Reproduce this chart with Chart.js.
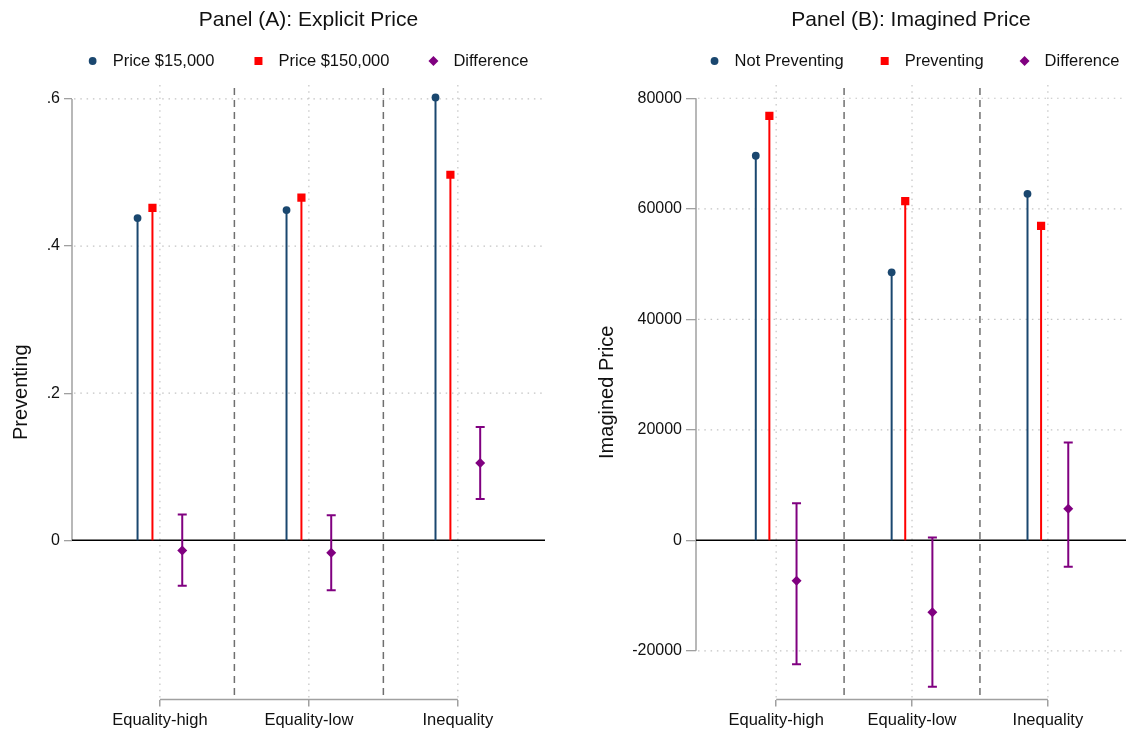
<!DOCTYPE html>
<html>
<head>
<meta charset="utf-8">
<script src="https://cdn.jsdelivr.net/npm/chart.js@4"></script>
<style>
  html, body { margin: 0; padding: 0; background: #fff; }
  #wrap { position: relative; width: 1126px; height: 731px; }
  .panel { position: absolute; top: 0; height: 731px; }
</style>
</head>
<body>
<div id="wrap">
  <div class="panel" style="left:0;width:563px"><canvas id="panelA"></canvas></div>
  <div class="panel" style="left:563px;width:563px"><canvas id="panelB"></canvas></div>
</div>
<script>
const categories = ["Equality-high", "Equality-low", "Inequality"];

// Panel A: share preventing, by explicit price
const price15k = [0.438, 0.449, 0.602];
const price150k = [0.452, 0.466, 0.497];
const diffA = [-0.014, -0.017, 0.105];
const diffALow = [-0.062, -0.068, 0.056];
const diffAHigh = [0.035, 0.034, 0.154];
const ticksA = [0, 0.2, 0.4, 0.6];

// Panel B: imagined price
const notPreventing = [69600, 48500, 62700];
const preventing = [76800, 61400, 56900];
const diffB = [-7300, -13000, 5700];
const diffBLow = [-22400, -26500, -4800];
const diffBHigh = [6700, 500, 17700];
const ticksB = [-20000, 0, 20000, 40000, 60000, 80000];

const separators = [1.5, 2.5];
const NAVY = "#1a476f", RED = "#ff0000", PURPLE = "#800080";
const FONT = '"Liberation Sans", Arial, sans-serif';

Chart.defaults.font.family = FONT;
Chart.defaults.color = "#111";

function stems(values, off, color) {
    const pts = [];
    values.forEach((v, i) => {
        pts.push({ x: i + 1 + off, y: 0 }, { x: i + 1 + off, y: v }, { x: i + 1 + off, y: null });
    });
    return { type: "line", data: pts, borderColor: color, borderWidth: 2, pointRadius: 0, spanGaps: false, order: 2 };
}

function ranges(lo, hi, off) {
    const pts = [];
    lo.forEach((v, i) => {
        pts.push({ x: i + 1 + off, y: v }, { x: i + 1 + off, y: hi[i] }, { x: i + 1 + off, y: null });
    });
    return { type: "line", data: pts, borderColor: PURPLE, borderWidth: 2, pointRadius: 0, spanGaps: false, order: 1 };
}

function caps(lo, hi, off) {
    const pts = [];
    lo.forEach((v, i) => pts.push({ x: i + 1 + off, y: v }, { x: i + 1 + off, y: hi[i] }));
    return { type: "scatter", data: pts, pointStyle: "line", pointRadius: 4.5, borderColor: PURPLE, borderWidth: 2, order: 1 };
}

function markers(values, off, style, radius, color) {
    return {
        type: "scatter",
        data: values.map((v, i) => ({ x: i + 1 + off, y: v })),
        pointStyle: style, pointRadius: radius, backgroundColor: color, borderWidth: 0, order: 0
    };
}

function seg(ctx, x1, y1, x2, y2) {
    ctx.beginPath();
    ctx.moveTo(x1, y1);
    ctx.lineTo(x2, y2);
    ctx.stroke();
}

function drawKey(ctx, it, x, y) {
    ctx.fillStyle = it.color;
    ctx.beginPath();
    if (it.style === "circle") {
        ctx.arc(x, y, 3.9, 0, Math.PI * 2);
    } else if (it.style === "rect") {
        ctx.rect(x - 4, y - 4, 8, 8);
    } else {
        ctx.moveTo(x, y - 5); ctx.lineTo(x + 5, y); ctx.lineTo(x, y + 5); ctx.lineTo(x - 5, y);
        ctx.closePath();
    }
    ctx.fill();
}

const framePlugin = {
    id: "frame",
    beforeDatasetsDraw(chart, args, opts) {
        const { ctx, chartArea: a, scales: { x, y } } = chart;
        const t = opts.yTicks;
        ctx.save();
        // dotted grid
        ctx.strokeStyle = "#c4c4c4";
        ctx.lineWidth = 1.2;
        ctx.setLineDash([1.5, 4.8]);
        t.forEach(v => {
            if (v === 0) return;
            const py = y.getPixelForValue(v);
            seg(ctx, a.left + 2, py, a.right, py);
        });
        categories.forEach((c, i) => {
            const px = x.getPixelForValue(i + 1);
            seg(ctx, px, a.top, px, a.bottom);
        });
        // group separators
        ctx.strokeStyle = "#6f6f6f";
        ctx.lineWidth = 1.5;
        ctx.setLineDash([7, 5]);
        separators.forEach(v => {
            const px = x.getPixelForValue(v);
            seg(ctx, px, a.top + 3, px, a.bottom);
        });
        ctx.setLineDash([]);
        // axis lines
        ctx.strokeStyle = "#a0a0a0";
        ctx.lineWidth = 1.5;
        seg(ctx, a.left, y.getPixelForValue(t[0]), a.left, y.getPixelForValue(t[t.length - 1]));
        seg(ctx, x.getPixelForValue(1), a.bottom, x.getPixelForValue(categories.length), a.bottom);
        // zero line
        ctx.strokeStyle = "#000";
        const y0 = y.getPixelForValue(0);
        seg(ctx, a.left, y0, a.right, y0);
        ctx.restore();
    },
    afterDraw(chart, args, opts) {
        const { ctx, chartArea: a, scales: { x } } = chart;
        ctx.save();
        // category labels under the x axis
        ctx.font = "16.5px " + FONT;
        ctx.fillStyle = "#111";
        ctx.textAlign = "center";
        ctx.textBaseline = "alphabetic";
        categories.forEach((c, i) => ctx.fillText(c, x.getPixelForValue(i + 1), a.bottom + 25));
        // legend
        const items = opts.legend;
        ctx.textAlign = "left";
        ctx.textBaseline = "middle";
        const widths = items.map(it => ctx.measureText(it.text).width);
        const total = widths.reduce((s, w) => s + 24 + w, 0) + opts.gap * (items.length - 1);
        let px = (a.left + a.right) / 2 - total / 2 + opts.dx;
        items.forEach((it, i) => {
            drawKey(ctx, it, px + 4, 61);
            ctx.fillStyle = "#111";
            ctx.fillText(it.text, px + 24, 61);
            px += 24 + widths[i] + opts.gap;
        });
        ctx.restore();
    }
};

function makePanel(id, cfg) {
    new Chart(document.getElementById(id), {
        type: "scatter",
        data: {
            datasets: [
                markers(cfg.s1, -0.15, "circle", 3.9, NAVY),
                markers(cfg.s2, -0.05, "rect", 5.8, RED),
                markers(cfg.diff, 0.15, "rectRot", 5, PURPLE),
                caps(cfg.lo, cfg.hi, 0.15),
                ranges(cfg.lo, cfg.hi, 0.15),
                stems(cfg.s1, -0.15, NAVY),
                stems(cfg.s2, -0.05, RED)
            ]
        },
        options: {
            responsive: true,
            maintainAspectRatio: false,
            animation: false,
            events: [],
            layout: { autoPadding: false, padding: { left: 0, right: cfg.padRight, top: 0, bottom: 0 } },
            plugins: {
                legend: { display: false },
                tooltip: { enabled: false },
                title: {
                    display: true,
                    text: cfg.title,
                    fullSize: false,
                    color: "#111",
                    font: { size: 21, weight: "normal" },
                    padding: { top: 8, bottom: 51.8 }
                },
                frame: { yTicks: cfg.ticks, legend: cfg.legend, gap: cfg.gap, dx: cfg.dx }
            },
            scales: {
                x: {
                    type: "linear",
                    min: cfg.xMin,
                    max: cfg.xMax,
                    afterBuildTicks: s => { s.ticks = categories.map((c, i) => ({ value: i + 1 })); },
                    afterFit: s => { s.height = 31.5; },
                    ticks: { display: false },
                    grid: { drawOnChartArea: false, tickLength: 7, color: "#a0a0a0", lineWidth: 1.5 },
                    border: { display: false }
                },
                y: {
                    min: cfg.yMin,
                    max: cfg.yMax,
                    afterBuildTicks: s => { s.ticks = cfg.ticks.map(v => ({ value: v })); },
                    afterFit: s => { s.width = cfg.axisWidth; },
                    ticks: {
                        callback: cfg.fmt,
                        padding: 4,
                        font: { size: 16 },
                        color: "#111"
                    },
                    grid: { drawOnChartArea: false, tickLength: cfg.tickLen, color: "#a0a0a0", lineWidth: 1.3 },
                    border: { display: false },
                    title: {
                        display: true,
                        text: cfg.yTitle,
                        color: "#111",
                        font: { size: 20 },
                        padding: { top: cfg.titlePad, bottom: 0 }
                    }
                }
            }
        },
        plugins: [framePlugin]
    });
}

makePanel("panelA", {
    title: "Panel (A): Explicit Price",
    yTitle: "Preventing",
    s1: price15k, s2: price150k, diff: diffA, lo: diffALow, hi: diffAHigh,
    ticks: ticksA,
    fmt: v => (v === 0 ? "0" : String(v).replace(/^0/, "")),
    yMin: -0.2165, yMax: 0.619,
    xMin: 0.41, xMax: 3.585,
    axisWidth: 72, padRight: 18, tickLen: 8, titlePad: 9,
    gap: 40, dx: 0,
    legend: [
        { text: "Price $15,000", style: "circle", color: NAVY },
        { text: "Price $150,000", style: "rect", color: RED },
        { text: "Difference", style: "diamond", color: PURPLE }
    ]
});

makePanel("panelB", {
    title: "Panel (B): Imagined Price",
    yTitle: "Imagined Price",
    s1: notPreventing, s2: preventing, diff: diffB, lo: diffBLow, hi: diffBHigh,
    ticks: ticksB,
    fmt: v => String(v),
    yMin: -28800, yMax: 82400,
    xMin: 0.41, xMax: 3.575,
    axisWidth: 133, padRight: 0, tickLen: 10, titlePad: 32.5,
    gap: 37, dx: 4,
    legend: [
        { text: "Not Preventing", style: "circle", color: NAVY },
        { text: "Preventing", style: "rect", color: RED },
        { text: "Difference", style: "diamond", color: PURPLE }
    ]
});
</script>
</body>
</html>
